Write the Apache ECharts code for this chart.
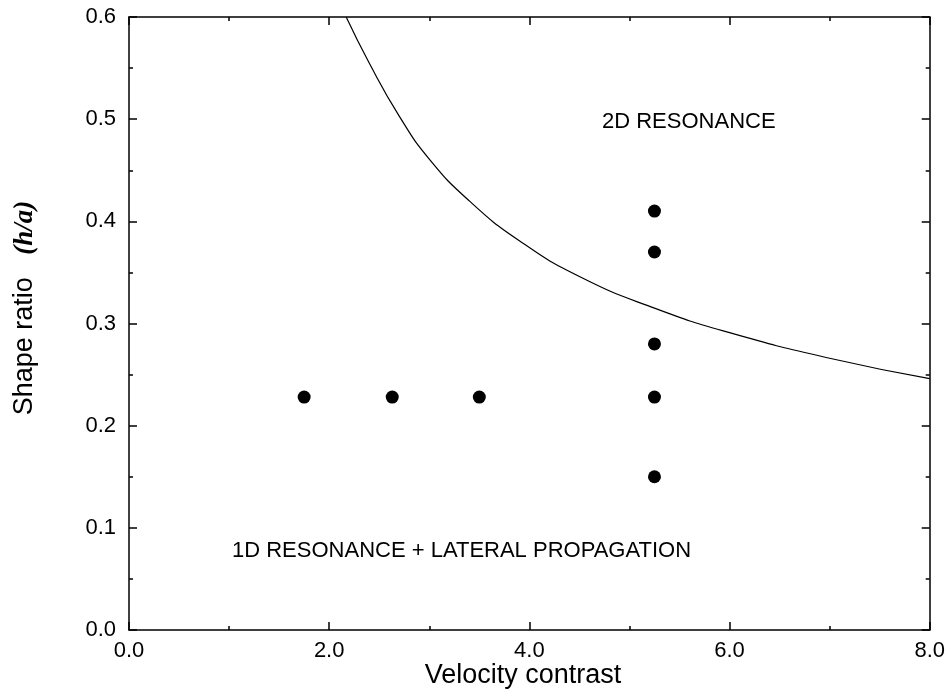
<!DOCTYPE html>
<html>
<head>
<meta charset="utf-8">
<script src="https://cdn.jsdelivr.net/npm/echarts@6/dist/echarts.min.js"></script>
<style>
  html, body { margin: 0; padding: 0; background: #fff; }
  #main { width: 948px; height: 691px; }
</style>
</head>
<body>
<div id="main"></div>
<script>
// measured points: velocity contrast vs shape ratio h/a
var ptX = [1.75, 2.63, 3.5, 5.25, 5.25, 5.25, 5.25, 5.25];
var ptY = [0.228, 0.228, 0.228, 0.41, 0.37, 0.28, 0.228, 0.15];

// boundary curve between 1D and 2D resonance
var curveX = [2.17, 2.40, 2.70, 3.00, 3.40, 3.90, 4.50, 5.25, 6.00, 7.00, 8.00];
var curveY = [0.600, 0.555, 0.503, 0.461, 0.420, 0.381, 0.346, 0.315, 0.291, 0.266, 0.246];

var xTicks = ['0.0', '2.0', '4.0', '6.0', '8.0'];
var yTicks = ['0.0', '0.1', '0.2', '0.3', '0.4', '0.5', '0.6'];

var FONT = 'Liberation Sans, Arial, sans-serif';
var SERIF = 'Liberation Serif, Times New Roman, serif';

var chart = echarts.init(document.getElementById('main'));

function zip(a, b) {
  return a.map(function (v, i) { return [v, b[i]]; });
}

var lineStyle = { color: '#000', width: 1.5 };

// frame axis: line + inward ticks, no labels
function frameAxis(extra) {
  var ax = {
    type: 'value',
    axisLine: { show: true, onZero: false, lineStyle: lineStyle },
    axisTick: { show: true, inside: true, length: 8, lineStyle: lineStyle },
    minorTick: { show: true, splitNumber: 2, length: 4, lineStyle: lineStyle },
    splitLine: { show: false },
    axisLabel: { show: false }
  };
  return Object.assign(ax, extra);
}

var option = {
  animation: false,
  backgroundColor: '#fff',
  grid: { left: 129, right: 15, top: 17, bottom: 61 },
  xAxis: [
    frameAxis({
      min: 0, max: 8, interval: 2, position: 'bottom',
      axisLabel: {
        show: true, color: '#000', fontFamily: FONT, fontSize: 22, margin: 10,
        formatter: function (v) { return xTicks[Math.round(v / 2)]; }
      }
    }),
    frameAxis({ min: 0, max: 8, interval: 2, position: 'top' })
  ],
  yAxis: [
    frameAxis({
      min: 0, max: 0.6, interval: 0.1, position: 'left',
      axisLabel: {
        show: true, color: '#000', fontFamily: FONT, fontSize: 22, margin: 13,
        formatter: function (v) { return yTicks[Math.round(v * 10)]; }
      }
    }),
    frameAxis({ min: 0, max: 0.6, interval: 0.1, position: 'right' })
  ],
  graphic: [{
    type: 'text', x: 602, y: 122,
    style: { text: '2D RESONANCE', fill: '#000', font: '22px ' + FONT, verticalAlign: 'middle' }
  }, {
    type: 'text', x: 232, y: 551,
    style: { text: '1D RESONANCE + LATERAL PROPAGATION', fill: '#000', font: '22px ' + FONT, verticalAlign: 'middle' }
  }, {
    type: 'text', x: 523, y: 676,
    style: { text: 'Velocity contrast', fill: '#000', font: '27px ' + FONT, align: 'center', verticalAlign: 'middle' }
  }, {
    type: 'text', x: 25, y: 308, rotation: Math.PI / 2,
    style: {
      text: '{n|Shape ratio   }{i|(h/a)}',
      align: 'center', verticalAlign: 'middle',
      rich: {
        n: { fontFamily: FONT, fontSize: 27, fill: '#000' },
        i: { fontFamily: SERIF, fontSize: 27, fontWeight: 'bold', fontStyle: 'italic', fill: '#000' }
      }
    }
  }],
  series: [{
    type: 'line',
    data: zip(curveX, curveY),
    smooth: 0.5,
    showSymbol: false,
    lineStyle: { color: '#000', width: 1.2 }
  }, {
    type: 'scatter',
    data: zip(ptX, ptY),
    symbol: 'circle',
    symbolSize: 13,
    itemStyle: { color: '#000', opacity: 1 }
  }]
};

chart.setOption(option);
</script>
</body>
</html>
